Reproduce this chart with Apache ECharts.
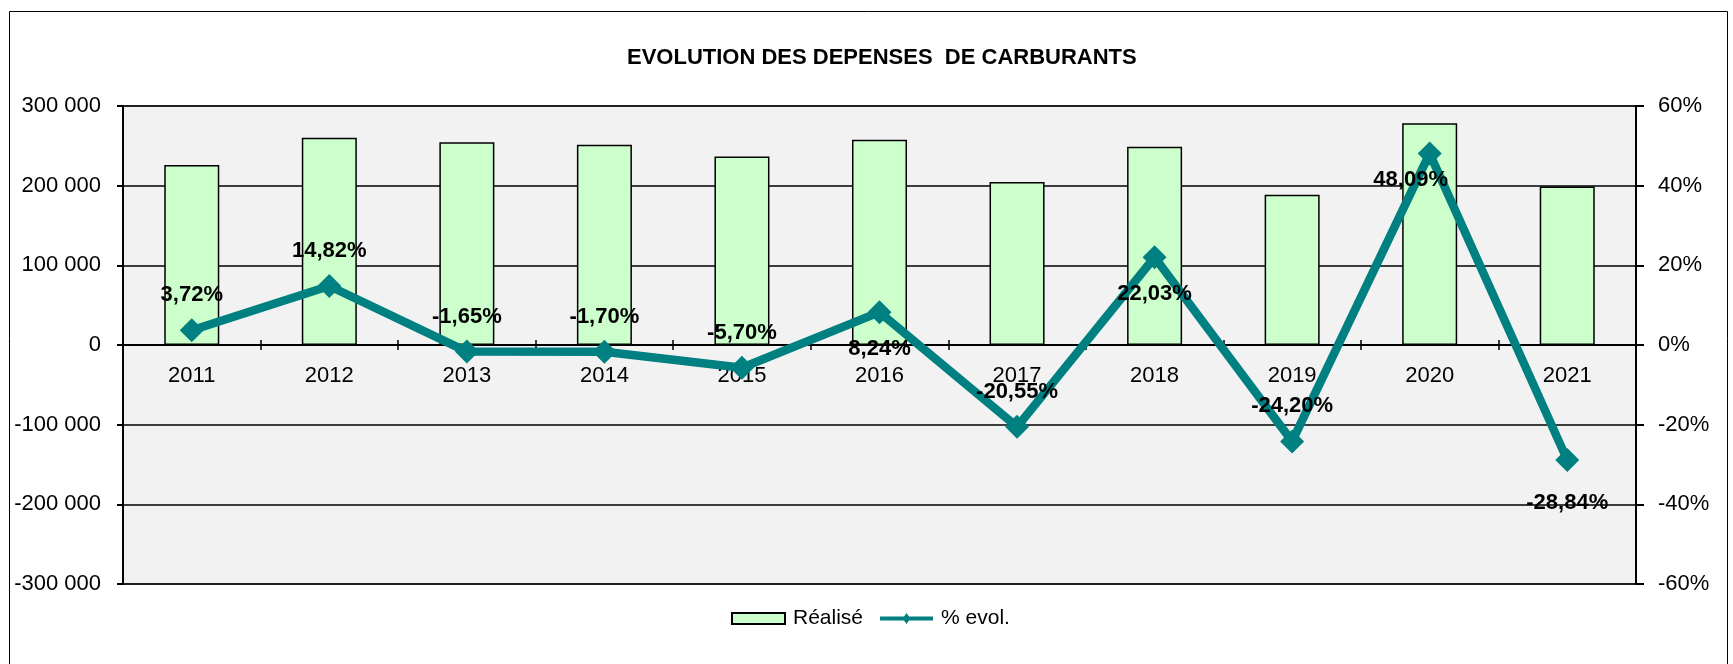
<!DOCTYPE html>
<html>
<head>
<meta charset="utf-8">
<script src="https://cdn.jsdelivr.net/npm/echarts@6/dist/echarts.min.js"></script>
<style>
html,body{margin:0;padding:0;background:#fff;}
#chart{width:1733px;height:664px;}
</style>
</head>
<body>
<div id="chart"></div>
<script>
// ---- data ----
const categories = ['2011','2012','2013','2014','2015','2016','2017','2018','2019','2020','2021'];
const realise = [226000, 260000, 254500, 251500, 236500, 257500, 204500, 249000, 188500, 278500, 199000];
const evol = [3.72, 14.82, -1.65, -1.70, -5.70, 8.24, -20.55, 22.03, -24.20, 48.09, -28.84];
const leftTicks = [-300000, 300000, 100000];   // min, max, interval
const rightTicks = [-60, 60, 20];             // min, max, interval

// label placement (style only)
const labelPlacement = ['top','top','top','top','top','bottom','top','bottom','top','bottom','bottom'];
const labelDistance = [12,12,12,12,12,14,12,14,12,3,20];
const labelOffset = [[0,0],[0,0],[0,0],[0,0],[0,0],[0,0],[0,0],[0,0],[0,0],[-19,0],[0,0]];

const FONT = 'Liberation Sans, Arial, sans-serif';
const fmtThousands = v => String(v).replace(/\B(?=(\d{3})+(?!\d))/g, ' ');
const fmtPct = v => v.toFixed(2).replace('.', ',') + '%';

const GRID_TOP = 106, GRID_BOTTOM = 80, H = 664;
const plotH = H - GRID_TOP - GRID_BOTTOM;
// category axis sits on the zero line
const zeroOffset = -plotH * (0 - leftTicks[0]) / (leftTicks[1] - leftTicks[0]);

const chart = echarts.init(document.getElementById('chart'));
chart.setOption({
  animation: false,
  textStyle: { fontFamily: FONT },
  graphic: [{
    type: 'rect', z: 100, silent: true,
    shape: { x: 9.5, y: 11.5, width: 1718, height: 700 },
    style: { fill: 'none', stroke: '#000', lineWidth: 1 }
  }],
  title: {
    text: 'EVOLUTION DES DEPENSES  DE CARBURANTS',
    left: 622, top: 42,
    textStyle: { fontFamily: FONT, fontSize: 22, fontWeight: 'bold', color: '#000' }
  },
  legend: {
    left: 731, top: 608, padding: 0,
    itemWidth: 53, itemHeight: 11, itemGap: 17,
    textStyle: { fontFamily: FONT, fontSize: 21, color: '#000', padding: [0,0,0,3] },
    data: [
      { name: 'Réalisé', icon: 'rect' },
      { name: '% evol.', icon: 'path://M0,3.5 L24,3.5 L26.5,0 L29,3.5 L53,3.5 L53,7.5 L29,7.5 L26.5,11 L24,7.5 L0,7.5 Z' }
    ]
  },
  grid: {
    left: 123, right: 97, top: GRID_TOP, bottom: GRID_BOTTOM,
    show: true, backgroundColor: '#f2f2f2', borderColor: '#808080', borderWidth: 2
  },
  xAxis: [{
    type: 'category', data: categories, position: 'bottom', offset: zeroOffset,
    axisLine: { onZero: false, lineStyle: { color: '#000', width: 2 } },
    axisTick: { show: true, length: 5, lineStyle: { color: '#000', width: 1.5 } },
    axisLabel: { fontFamily: FONT, fontSize: 22, color: '#000', margin: 20 },
    splitLine: { show: false }
  }, {
    type: 'category', data: categories, position: 'bottom', offset: zeroOffset,
    axisLine: { show: false, onZero: false },
    axisTick: { show: true, inside: true, length: 5, lineStyle: { color: '#000', width: 1.5 } },
    axisLabel: { show: false },
    splitLine: { show: false }
  }],
  yAxis: [{
    type: 'value', min: leftTicks[0], max: leftTicks[1], interval: leftTicks[2],
    axisLine: { show: true, onZero: false, lineStyle: { color: '#000', width: 2 } },
    axisTick: { show: true, length: 6, lineStyle: { color: '#000', width: 2 } },
    axisLabel: { fontFamily: FONT, fontSize: 22, color: '#000', margin: 22, formatter: fmtThousands },
    splitLine: { show: true, lineStyle: { color: '#000', width: 1.5 } }
  }, {
    type: 'value', min: rightTicks[0], max: rightTicks[1], interval: rightTicks[2],
    axisLine: { show: true, onZero: false, lineStyle: { color: '#000', width: 2 } },
    axisTick: { show: true, length: 8, lineStyle: { color: '#000', width: 2 } },
    axisLabel: { fontFamily: FONT, fontSize: 22, color: '#000', margin: 22, formatter: v => v + '%' },
    splitLine: { show: false }
  }],
  series: [{
    name: 'Réalisé', type: 'bar', data: realise, barWidth: '40%',
    xAxisIndex: 0, yAxisIndex: 0,
    itemStyle: { color: '#ccffcc', borderColor: '#000', borderWidth: 1.5 }
  }, {
    name: '% evol.', type: 'line', xAxisIndex: 0, yAxisIndex: 1, z: 5,
    data: evol.map((v, i) => ({
      value: v,
      label: { position: labelPlacement[i], distance: labelDistance[i], offset: labelOffset[i] }
    })),
    symbol: 'diamond', symbolSize: 24,
    lineStyle: { color: '#008080', width: 8.5 },
    itemStyle: { color: '#008080' },
    label: {
      show: true, fontFamily: FONT, fontSize: 22, fontWeight: 'bold', color: '#000',
      formatter: p => fmtPct(p.value)
    }
  }]
});
</script>
</body>
</html>
